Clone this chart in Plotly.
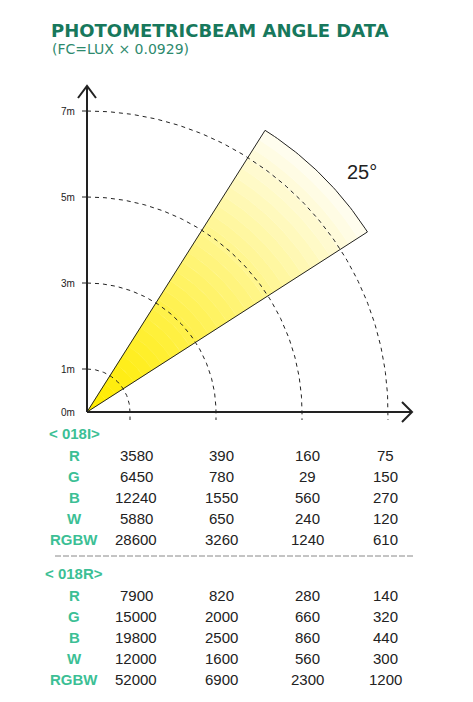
import numpy as np
import plotly.graph_objects as go

# ---- data ----
dist_labels = ["0m", "1m", "3m", "5m", "7m"]
dist_values = [0, 1, 3, 5, 7]
arc_radii = [1, 3, 5, 7]
beam_angle = 25
row_labels = ["R", "G", "B", "W", "RGBW"]
group1_name = "< 018I>"
group1 = [[3580, 390, 160, 75],
          [6450, 780, 29, 150],
          [12240, 1550, 560, 270],
          [5880, 650, 240, 120],
          [28600, 3260, 1240, 610]]
group2_name = "< 018R>"
group2 = [[7900, 820, 280, 140],
          [15000, 2000, 660, 320],
          [19800, 2500, 860, 440],
          [12000, 1600, 560, 300],
          [52000, 6900, 2300, 1200]]

PAD = 8
W, H = 473 - PAD, 702 - PAD
OX, OY, S = 87 - PAD, 412 - PAD, 43.0
def X(px): return (px - PAD - OX) / S
def Y(py): return (OY - (py - PAD)) / S

fig = go.Figure()
black = "#222"

# beam gradient
R_beam = 7.75
a0, a1 = np.radians(45 - beam_angle / 2 + 0.2), np.radians(45 + beam_angle / 2 + 0.2)
th = np.linspace(a0, a1, 40)
n = 30
for i in range(n):
    r0, r1 = R_beam * i / n, R_beam * (i + 1) / n
    t = i / (n - 1)
    c0 = np.array([255, 236, 0]); c1 = np.array([255, 253, 238])
    c = (c0 + (c1 - c0) * t ** 1.2).astype(int)
    xs = list(r1 * np.cos(th)) + list(r0 * np.cos(th[::-1]))
    ys = list(r1 * np.sin(th)) + list(r0 * np.sin(th[::-1]))
    fig.add_trace(go.Scatter(x=xs + [xs[0]], y=ys + [ys[0]], fill="toself", mode="lines",
                             line=dict(width=0.5, color=f"rgb({c[0]},{c[1]},{c[2]})"),
                             fillcolor=f"rgb({c[0]},{c[1]},{c[2]})", hoverinfo="skip"))
xs = [0] + list(R_beam * np.cos(th)) + [0]
ys = [0] + list(R_beam * np.sin(th)) + [0]
fig.add_trace(go.Scatter(x=xs, y=ys, mode="lines", line=dict(color=black, width=1), hoverinfo="skip"))

# dashed arcs (from top down to x axis, then a short tick below)
ta = np.linspace(np.pi / 2, 0, 120)
for r in arc_radii:
    fig.add_trace(go.Scatter(x=list(r * np.cos(ta)) + [r], y=list(r * np.sin(ta)) + [Y(420)],
                             mode="lines", line=dict(color=black, width=1, dash="4px,4px"), hoverinfo="skip"))

# axes
fig.add_trace(go.Scatter(x=[0, X(412)], y=[0, 0], mode="lines", line=dict(color=black, width=2), hoverinfo="skip"))
fig.add_trace(go.Scatter(x=[X(402), X(412), X(402)], y=[Y(402), 0, Y(422)], mode="lines", line=dict(color=black, width=2), hoverinfo="skip"))
fig.add_trace(go.Scatter(x=[0, 0], y=[0, Y(86)], mode="lines", line=dict(color=black, width=2), hoverinfo="skip"))
fig.add_trace(go.Scatter(x=[X(78), 0, X(96)], y=[Y(98), Y(86), Y(98)], mode="lines", line=dict(color=black, width=2), hoverinfo="skip"))
for v in dist_values[1:]:
    fig.add_trace(go.Scatter(x=[X(82), 0], y=[v, v], mode="lines", line=dict(color=black, width=1), hoverinfo="skip"))

ann = []
for lab, v in zip(dist_labels, dist_values):
    ann.append(dict(x=X(77), y=v, text=lab, xanchor="right", yanchor="middle", showarrow=False,
                    font=dict(size=10, color=black, family="Liberation Sans")))
ann.append(dict(x=X(362), y=Y(172), text=f"{beam_angle}°", showarrow=False,
                font=dict(size=20, color=black, family="Liberation Sans")))
ann.append(dict(x=X(49), y=Y(30), text="<b>PHOTOMETRICBEAM ANGLE DATA</b>", xanchor="left", showarrow=False,
                font=dict(size=18, color="#17785c", family="DejaVu Sans")))
ann.append(dict(x=X(50), y=Y(49), text="(FC=LUX × 0.0929)", xanchor="left", showarrow=False,
                font=dict(size=14, color="#2e8a6e", family="DejaVu Sans")))

teal = "#3cbf95"
colx = [136, 221, 307, 385]
def table(name, rows, y0):
    ann.append(dict(x=X(74), y=Y(y0), text=f"<b>{name}</b>", showarrow=False,
                    font=dict(size=15, color=teal, family="Liberation Sans")))
    for i, (lab, vals) in enumerate(zip(row_labels, rows)):
        yy = Y(y0 + 22 + 21 * i)
        ann.append(dict(x=X(74), y=yy, text=f"<b>{lab}</b>", showarrow=False,
                        font=dict(size=15, color=teal, family="Liberation Sans")))
        for cx, v in zip(colx, vals):
            ann.append(dict(x=X(cx), y=yy, text=str(v), showarrow=False,
                            font=dict(size=15, color=black, family="Liberation Sans")))
table(group1_name, group1, 433)
table(group2_name, group2, 573)
fig.add_trace(go.Scatter(x=[X(55), X(415)], y=[Y(556), Y(556)], mode="lines",
                         line=dict(color="#888", width=1, dash="6px,2px"), hoverinfo="skip"))

fig.update_layout(width=W, height=H, autosize=False, margin=dict(l=0, r=0, t=0, b=0),
                  paper_bgcolor="white", plot_bgcolor="white", showlegend=False, annotations=ann,
                  xaxis=dict(range=[X(PAD), X(PAD + W)], visible=False, fixedrange=True),
                  yaxis=dict(range=[Y(PAD + H), Y(PAD)], visible=False, fixedrange=True))
fig.write_html("out.html")
